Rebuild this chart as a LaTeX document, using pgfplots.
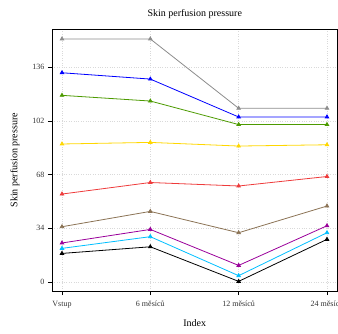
\documentclass[border=0pt]{standalone}
\usepackage{pgfplots}
\pgfplotsset{compat=1.18}
\usepackage{fontspec}
\setmainfont{Liberation Serif}
\definecolor{cgray}{HTML}{8C8C8C}
\definecolor{cblue}{HTML}{0000FF}
\definecolor{cgreen}{HTML}{4C9A00}
\definecolor{cyellow}{HTML}{FFD700}
\definecolor{cred}{HTML}{EE3B3B}
\definecolor{cbrown}{HTML}{8B7355}
\definecolor{cpurple}{HTML}{9A009A}
\definecolor{ccyan}{HTML}{00BFFF}
\begin{document}
\begin{tikzpicture}
\begin{axis}[
  at={(52pt,42pt)}, anchor=south west,
  scale only axis, width=285.5pt, height=261.5pt,
  xmin=-0.113, xmax=3.119, ymin=-5.7, ymax=159.9,
  xtick={0,1,2,3},
  xticklabels={Vstup,6 měsíců,12 měsíců,24 měsíců},
  ytick={0,34,68,102,136},
  tick align=outside, tick pos=left,
  major tick length=4pt,
  tick style={black, line width=0.6pt},
  axis line style={black, line width=0.8pt},
  grid=major,
  grid style={dotted, gray!30, line width=0.5pt},
  ticklabel style={font=\fontsize{8}{9}\selectfont, color=black!80},
  xticklabel style={yshift=-2.5pt},
  /pgf/number format/assume math mode=true,
  title={Skin perfusion pressure},
  title style={at={(axis description cs:0.5,1.027)}, anchor=base, font=\fontsize{10}{12}\selectfont},
  xlabel={Index},
  xlabel style={at={(axis description cs:0.5,-0.134)}, anchor=base, font=\fontsize{10}{12}\selectfont},
  ylabel={Skin perfusion pressure},
  ylabel style={at={(axis description cs:-0.13,0.5)}, anchor=center, font=\fontsize{10}{12}\selectfont},
  every axis plot/.append style={line width=0.8pt, mark=triangle*, mark size=2pt, mark options={solid}},
]
\addplot[color=cgray] coordinates {(0,153.9) (1,153.9) (2,110.0) (3,110.0)};
\addplot[color=cblue] coordinates {(0,132.5) (1,128.5) (2,104.5) (3,104.5)};
\addplot[color=cgreen] coordinates {(0,118.2) (1,114.6) (2,99.7) (3,99.7)};
\addplot[color=cyellow] coordinates {(0,87.4) (1,88.4) (2,86.1) (3,86.9)};
\addplot[color=cred] coordinates {(0,55.7) (1,63.0) (2,60.8) (3,66.8)};
\addplot[color=cbrown] coordinates {(0,35.0) (1,44.7) (2,31.2) (3,48.1)};
\addplot[color=cpurple] coordinates {(0,24.7) (1,33.3) (2,10.5) (3,35.6)};
\addplot[color=ccyan] coordinates {(0,21.3) (1,28.7) (2,4.0) (3,31.2)};
\addplot[color=black] coordinates {(0,18.1) (1,22.3) (2,0.4) (3,27.0)};
\end{axis}
\pgfresetboundingbox
\path[use as bounding box] (0,0) rectangle (338pt,333pt);
\end{tikzpicture}
\end{document}
